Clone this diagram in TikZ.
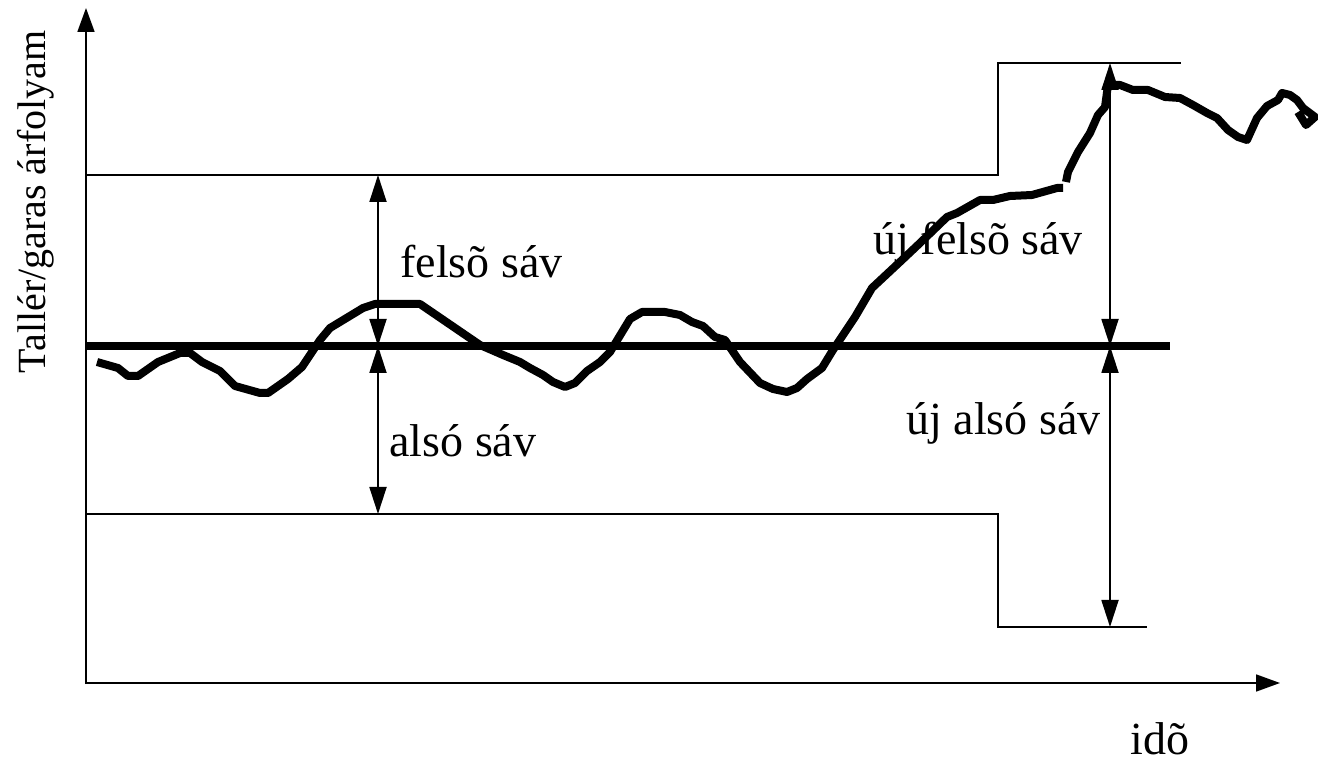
\documentclass[tikz,border=0pt]{standalone}
\usepackage{fontspec}
\setmainfont{Liberation Serif}
\usepackage{tikz}
\usetikzlibrary{calc}
\usetikzlibrary{positioning}
\usetikzlibrary{arrows.meta}
\tikzset{
  mythinline/.style={
    draw=black,
    line width=1pt,
  },
  myaxis/.style={
    draw=black,
    line width=0.9pt,
    -{Triangle[length=12pt,width=8.5pt]},
  },
  myarrow/.style={
    draw=black,
    line width=0.9pt,
    {Triangle[length=13.5pt,width=8.5pt]}-{Triangle[length=13.5pt,width=8.5pt]},
  },
  mycentre/.style={
    draw=black,
    line width=4pt,
  },
  mycurve/.style={
    draw=black,
    line width=4pt,
    line join=round,
  },
  mylabel/.style={
    inner sep=0pt,
    anchor=base west,
    font=\fontsize{23}{27}\selectfont
  },
}

\begin{document}
\begin{tikzpicture}[x=0.5pt,y=-0.5pt]
    \useasboundingbox (0,0) rectangle (1318,764);

    % axes
    \coordinate (origin) at (86,684);
    \coordinate (ytip) at (86,8);
    \coordinate (xtip) at (1280,683);
    \draw[myaxis] (origin) -- (ytip);
    \draw[myaxis] (86,683) -- (xtip);

    % old and new band
    \coordinate (upleft) at (86,175);
    \coordinate (upstep) at (998,175);
    \coordinate (upnew) at (998,63);
    \coordinate (upend) at (1181,63);
    \coordinate (lowleft) at (86,514);
    \coordinate (lowstep) at (998,514);
    \coordinate (lownew) at (998,627);
    \coordinate (lowend) at (1147,627);
    \draw[mythinline] (upleft) -- (upstep) -- (upnew) -- (upend);
    \draw[mythinline] (lowleft) -- (lowstep) -- (lownew) -- (lowend);

    % central rate
    \coordinate (centleft) at (86,346);
    \coordinate (centright) at (1170,346);
    \draw[mycentre] (centleft) -- (centright);

    % band widths
    \coordinate (oldtop) at (378,175);
    \coordinate (oldmid) at (378,346);
    \coordinate (oldbot) at (378,514);
    \coordinate (newtop) at (1110,63);
    \coordinate (newmid) at (1110,346);
    \coordinate (newbot) at (1110,627);
    \draw[myarrow] (oldtop) -- (oldmid);
    \draw[myarrow] (oldmid) -- (oldbot);
    \draw[myarrow] (newtop) -- (newmid);
    \draw[myarrow] (newmid) -- (newbot);

    % rate
    \draw[mycurve] (97,362) -- (118,368) -- (128,376) -- (138,376) -- (158,362) -- (180,353) -- (190,353) -- (202,362) -- (220,371) -- (235,386) -- (260,393) -- (268,393) -- (288,379) -- (302,367) -- (320,340) -- (330,328) -- (363,308) -- (375,304) -- (420,304) -- (480,345) -- (503,355) -- (520,362) -- (530,368) -- (543,375) -- (553,382) -- (565,387) -- (575,383) -- (587,371) -- (600,362) -- (610,352) -- (630,319) -- (642,312) -- (665,312) -- (680,315) -- (692,322) -- (703,326) -- (715,337) -- (725,340) -- (740,362) -- (760,383) -- (773,389) -- (787,392) -- (797,388) -- (807,379) -- (822,368) -- (833,350) -- (855,317) -- (872,288) -- (902,260) -- (920,243) -- (947,217) -- (957,213) -- (980,200) -- (993,200) -- (1010,196) -- (1032,195) -- (1057,188) -- (1063,188);
    \draw[mycurve] (1066,182) -- (1068,172) -- (1078,152) -- (1090,133) -- (1098,115) -- (1105,107) -- (1108,85) -- (1113,85) -- (1120,85) -- (1133,90) -- (1148,90) -- (1165,97) -- (1180,98) -- (1193,105) -- (1207,113) -- (1217,118) -- (1228,130) -- (1238,137) -- (1247,140) -- (1257,118) -- (1267,106) -- (1278,100) -- (1282,93) -- (1290,95) -- (1297,100) -- (1303,108) -- (1315,117) -- (1306,125) -- (1298,112);

    % labels
    \node[mylabel] (felso) at (400,278) {felsõ sáv};
    \node[mylabel] (also) at (389,457) {alsó sáv};
    \node[mylabel] (ujfelso) at (873,255) {új felsõ sáv};
    \node[mylabel] (ujalso) at (906,435) {új alsó sáv};
    \node[mylabel, anchor=base] (ido) at (1160,754) {idõ};
    \node[mylabel, anchor=base, rotate=90, font=\fontsize{20}{24}\selectfont] (arfolyam) at (46,202) {Tallér/garas árfolyam};
  \end{tikzpicture}
\end{document}
